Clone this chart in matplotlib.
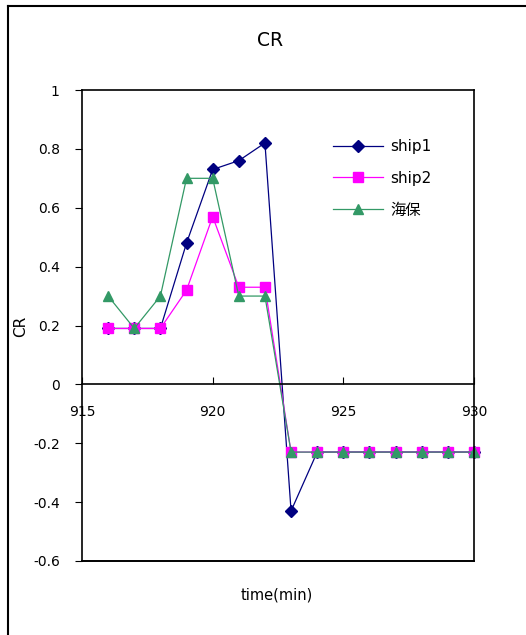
import matplotlib
matplotlib.use("Agg")
import matplotlib.pyplot as plt
from matplotlib.lines import Line2D
from matplotlib.ticker import FixedLocator, FuncFormatter

plt.rcParams['font.family'] = ['DejaVu Sans', 'Noto Sans CJK JP']

time = [916, 917, 918, 919, 920, 921, 922, 923, 924, 925, 926, 927, 928, 929, 930]
ship1 = [0.19, 0.19, 0.19, 0.48, 0.73, 0.76, 0.82, -0.43, -0.23, -0.23, -0.23, -0.23, -0.23, -0.23, -0.23]
ship2 = [0.19, 0.19, 0.19, 0.32, 0.57, 0.33, 0.33, -0.23, -0.23, -0.23, -0.23, -0.23, -0.23, -0.23, -0.23]
kaiho = [0.30, 0.19, 0.30, 0.70, 0.70, 0.30, 0.30, -0.23, -0.23, -0.23, -0.23, -0.23, -0.23, -0.23, -0.23]
labels = ['ship1', 'ship2', '海保']
xticks = [915, 920, 925, 930]
yticks = [-0.6, -0.4, -0.2, 0, 0.2, 0.4, 0.6, 0.8, 1]

W, H = 526, 635
fig = plt.figure(figsize=(W / 100, H / 100), dpi=100)
ax = fig.add_axes([82 / W, 1 - 561 / H, (474 - 82) / W, (561 - 90) / H])

ax.plot(time, ship1, color='#000080', marker='D', markersize=6, lw=0.9, label=labels[0], clip_on=False)
ax.plot(time, ship2, color='#FF00FF', marker='s', markersize=6.5, lw=0.9, label=labels[1], clip_on=False)
ax.plot(time, kaiho, color='#339966', marker='^', markersize=7.5, lw=0.9, label=labels[2], clip_on=False)

ax.set_xlim(915, 930)
ax.set_ylim(-0.6, 1)
ax.xaxis.set_major_locator(FixedLocator(xticks))
ax.yaxis.set_major_locator(FixedLocator(yticks))
ax.yaxis.set_major_formatter(FuncFormatter(lambda v, p: '0' if abs(v) < 1e-9 else '%g' % v))
ax.xaxis.set_major_formatter(FuncFormatter(lambda v, p: '%d' % v))

for s in ax.spines.values():
    s.set_linewidth(1.2)
ax.spines['bottom'].set_position(('data', 0))
ax.add_line(Line2D([0, 1], [0, 0], transform=ax.transAxes, color='black', lw=1.4, clip_on=False))

ax.tick_params(axis='x', direction='in', length=5, pad=15, labelsize=10)
ax.tick_params(axis='y', direction='out', length=5, pad=11, labelsize=10)

fig.text(270 / W, 1 - 40 / H, 'CR', ha='center', va='center', fontsize=13.5)
fig.text(21 / W, 1 - 326 / H, 'CR', ha='center', va='center', rotation=90, fontsize=11)
fig.text(277 / W, 1 - 595 / H, 'time(min)', ha='center', va='center', fontsize=10.5)

leg = ax.legend(loc='upper left', bbox_to_anchor=(333 / W, 1 - 139 / H), bbox_transform=fig.transFigure,
                frameon=False, fontsize=11, handlelength=3.3, handletextpad=0.45,
                labelspacing=1.1, borderpad=0, borderaxespad=0)

fig.add_artist(Line2D([8 / W, 8 / W], [0, 1 - 6 / H], transform=fig.transFigure, color='black', lw=1.5))
fig.add_artist(Line2D([8 / W, 1], [1 - 6 / H, 1 - 6 / H], transform=fig.transFigure, color='black', lw=1.5))

fig.savefig('out.png', dpi=100)
